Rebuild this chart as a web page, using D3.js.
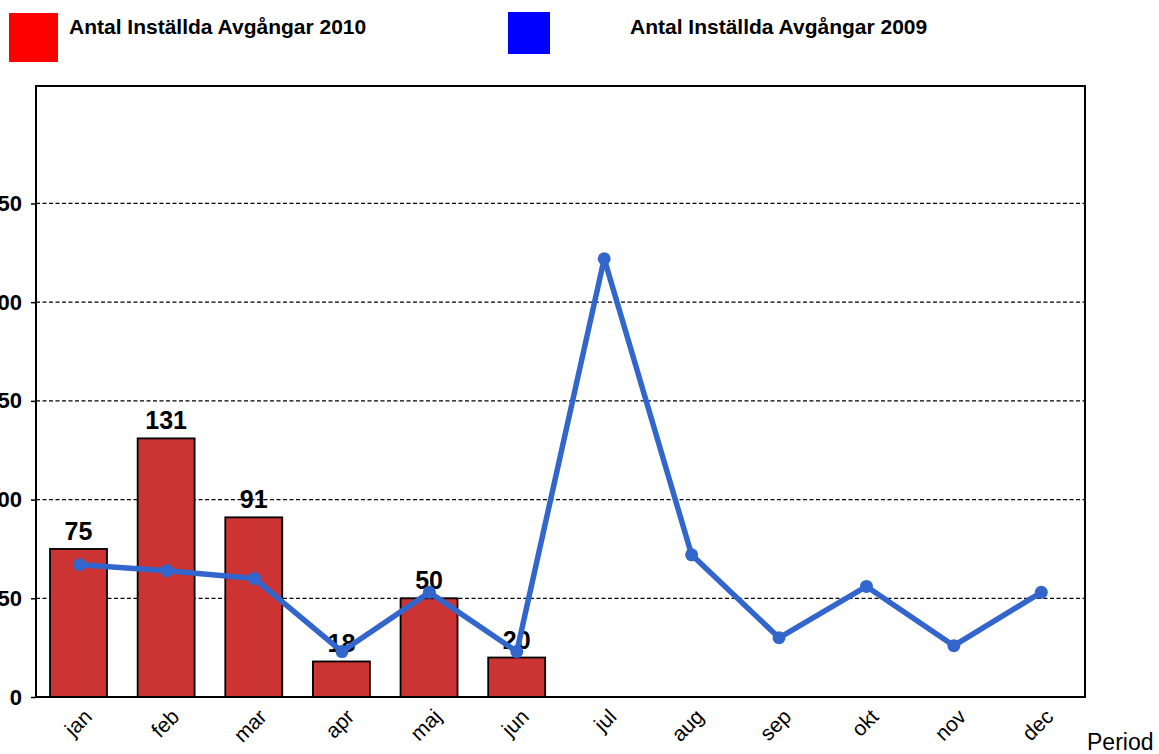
<!DOCTYPE html>
<html><head><meta charset="utf-8">
<script src="https://cdn.jsdelivr.net/npm/d3@7"></script>
<style>body{margin:0;background:#fff;}svg{display:block;font-family:"Liberation Sans",Arial,sans-serif;}</style>
</head><body><svg id="c" width="1159" height="754"></svg>
<script>
const months = ["jan","feb","mar","apr","maj","jun","jul","aug","sep","okt","nov","dec"];
const values2010 = [75,131,91,18,50,20];
const values2009 = [67,64,60,23,53,23,222,72,30,56,26,53];
const yTicks = [0,50,100,150,200,250];
const legendLabels = ["Antal Inställda Avgångar 2010","Antal Inställda Avgångar 2009"];

const svg = d3.select("#c");
const L=36, R=1085, T=86, B=697;
const x = d3.scaleBand().domain(months).range([L,R]).paddingInner(0.35).paddingOuter(0.16);
const xc = d3.scalePoint().domain(months).range([L,R]).padding(0.5);
const y = d3.scaleLinear().domain([0,309.5]).range([B,T]);

// gridlines
svg.append("g").selectAll("line").data(yTicks.filter(d=>d>0)).join("line")
  .attr("x1",L).attr("x2",R).attr("y1",d=>y(d)).attr("y2",d=>y(d))
  .attr("stroke","#000").attr("stroke-width",1.3).attr("stroke-dasharray","4,2.5");

// bars
const bars2010 = months.slice(0,values2010.length).map((m,i)=>({m,v:values2010[i]}));
svg.append("g").selectAll("rect").data(bars2010).join("rect")
  .attr("x",d=>x(d.m)).attr("width",x.bandwidth())
  .attr("y",d=>y(d.v)).attr("height",d=>B-y(d.v))
  .attr("fill","#CC3333").attr("stroke","#000").attr("stroke-width",1.8);

svg.append("g").selectAll("text").data(bars2010).join("text")
  .attr("x",d=>x(d.m)+x.bandwidth()/2).attr("y",d=>y(d.v)-9)
  .attr("text-anchor","middle").attr("font-size",25).attr("font-weight","bold")
  .text(d=>d.v);

// line
const pts = months.map((m,i)=>({m,v:values2009[i]}));
svg.append("path").datum(pts)
  .attr("d",d3.line().x(d=>xc(d.m)).y(d=>y(d.v)))
  .attr("fill","none").attr("stroke","#3366CC").attr("stroke-width",5.5).attr("stroke-linejoin","round");
svg.append("g").selectAll("circle").data(pts).join("circle")
  .attr("cx",d=>xc(d.m)).attr("cy",d=>y(d.v)).attr("r",6.5).attr("fill","#3366CC");

// frame
svg.append("rect").attr("x",L).attr("y",T).attr("width",R-L).attr("height",B-T)
  .attr("fill","none").attr("stroke","#000").attr("stroke-width",2);

// y axis
const ya = svg.append("g").attr("transform",`translate(${L},0)`)
  .call(d3.axisLeft(y).tickValues(yTicks).tickSize(5).tickPadding(9));
ya.select(".domain").remove();
ya.selectAll("line").attr("stroke","#000").attr("stroke-width",1.5);
ya.selectAll("text").attr("font-size",22).attr("font-weight","bold").attr("fill","#000")
  .attr("font-family","'Liberation Sans',Arial,sans-serif");

// x axis
const xa = svg.append("g").attr("transform",`translate(0,${B})`)
  .call(d3.axisBottom(xc).tickSize(0));
xa.select(".domain").remove();
xa.selectAll("text").attr("font-size",21).attr("fill","#000")
  .attr("font-family","'Liberation Sans',Arial,sans-serif")
  .attr("text-anchor","end").attr("dy",0).attr("y",0)
  .attr("transform","translate(13,21) rotate(-45)");

svg.append("text").attr("x",1087).attr("y",750).attr("font-size",23).text("Period");

// legend
const leg = [{c:"#FF0000",x:9,y:13,s:49,tx:69,ty:34},{c:"#0000FF",x:508,y:12,s:42,tx:630,ty:34}];
leg.forEach((l,i)=>{
  svg.append("rect").attr("x",l.x).attr("y",l.y).attr("width",l.s).attr("height",l.s).attr("fill",l.c);
  svg.append("text").attr("x",l.tx).attr("y",l.ty).attr("font-size",21).attr("font-weight","bold").text(legendLabels[i]);
});
</script></body></html>
